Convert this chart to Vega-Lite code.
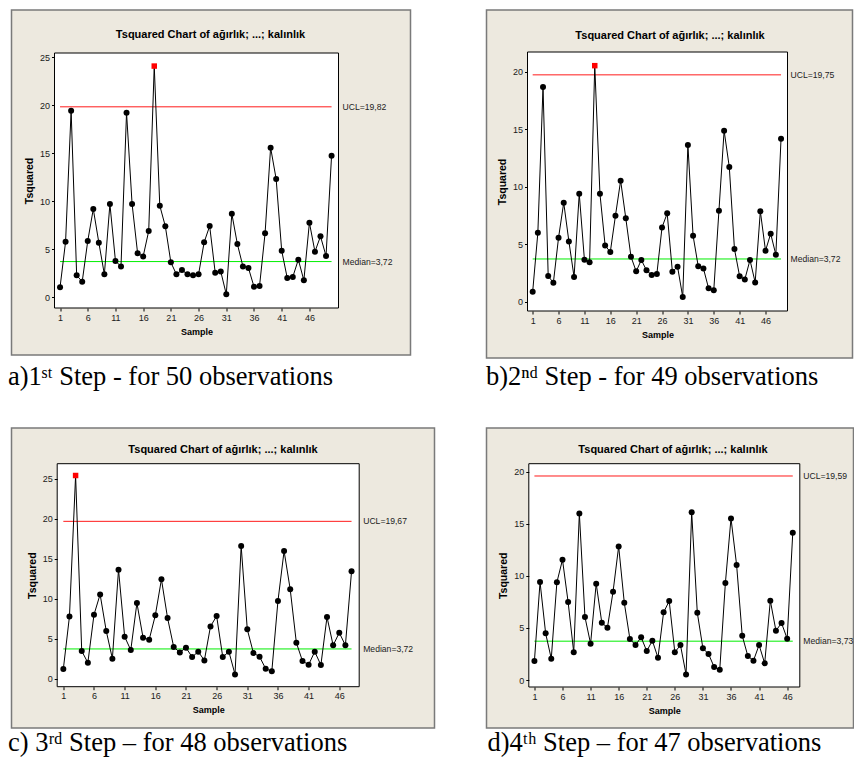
{
  "$schema": "https://vega.github.io/schema/vega-lite/v6.json",
  "background": "white",
  "padding": {"left": 6.5, "top": 9, "right": 0, "bottom": 0},
  "columns": 2,
  "spacing": {"row": 70, "column": 52},
  "bounds": "flush",
  "align": "all",
  "datasets": {
    "a": [
      {"sample":1,"t2":1.04},{"sample":2,"t2":5.79},{"sample":3,"t2":19.42},{"sample":4,"t2":2.29},{"sample":5,"t2":1.63},
      {"sample":6,"t2":5.86},{"sample":7,"t2":9.19},{"sample":8,"t2":5.69},{"sample":9,"t2":2.39},{"sample":10,"t2":9.71},
      {"sample":11,"t2":3.78},{"sample":12,"t2":3.22},{"sample":13,"t2":19.21},{"sample":14,"t2":9.71},{"sample":15,"t2":4.58},
      {"sample":16,"t2":4.26},{"sample":17,"t2":6.9},{"sample":18,"t2":24.06},{"sample":19,"t2":9.54},{"sample":20,"t2":7.39},
      {"sample":21,"t2":3.64},{"sample":22,"t2":2.39},{"sample":23,"t2":2.84},{"sample":24,"t2":2.39},{"sample":25,"t2":2.29},
      {"sample":26,"t2":2.39},{"sample":27,"t2":5.72},{"sample":28,"t2":7.42},{"sample":29,"t2":2.57},{"sample":30,"t2":2.7},
      {"sample":31,"t2":0.31},{"sample":32,"t2":8.7},{"sample":33,"t2":5.55},{"sample":34,"t2":3.22},{"sample":35,"t2":3.05},
      {"sample":36,"t2":1.11},{"sample":37,"t2":1.18},{"sample":38,"t2":6.66},{"sample":39,"t2":15.57},{"sample":40,"t2":12.31},
      {"sample":41,"t2":4.85},{"sample":42,"t2":2.01},{"sample":43,"t2":2.12},{"sample":44,"t2":3.92},{"sample":45,"t2":1.77},
      {"sample":46,"t2":7.77},{"sample":47,"t2":4.75},{"sample":48,"t2":6.35},{"sample":49,"t2":4.3},{"sample":50,"t2":14.74}
    ],
    "b": [
      {"sample":1,"t2":0.87},{"sample":2,"t2":6.0},{"sample":3,"t2":18.7},{"sample":4,"t2":2.23},{"sample":5,"t2":1.65},
      {"sample":6,"t2":5.57},{"sample":7,"t2":8.62},{"sample":8,"t2":5.25},{"sample":9,"t2":2.15},{"sample":10,"t2":9.4},
      {"sample":11,"t2":3.66},{"sample":12,"t2":3.43},{"sample":13,"t2":20.55},{"sample":14,"t2":9.4},{"sample":15,"t2":4.9},
      {"sample":16,"t2":4.32},{"sample":17,"t2":7.49},{"sample":18,"t2":10.54},{"sample":19,"t2":7.26},{"sample":20,"t2":3.92},
      {"sample":21,"t2":2.64},{"sample":22,"t2":3.63},{"sample":23,"t2":2.73},{"sample":24,"t2":2.32},{"sample":25,"t2":2.41},
      {"sample":26,"t2":6.47},{"sample":27,"t2":7.69},{"sample":28,"t2":2.61},{"sample":29,"t2":3.05},{"sample":30,"t2":0.41},
      {"sample":31,"t2":13.64},{"sample":32,"t2":5.75},{"sample":33,"t2":3.08},{"sample":34,"t2":2.9},{"sample":35,"t2":1.16},
      {"sample":36,"t2":0.99},{"sample":37,"t2":7.92},{"sample":38,"t2":14.89},{"sample":39,"t2":11.73},{"sample":40,"t2":4.59},
      {"sample":41,"t2":2.21},{"sample":42,"t2":1.94},{"sample":43,"t2":3.63},{"sample":44,"t2":1.68},{"sample":45,"t2":7.87},
      {"sample":46,"t2":4.44},{"sample":47,"t2":5.92},{"sample":48,"t2":4.09},{"sample":49,"t2":14.19}
    ],
    "c": [
      {"sample":1,"t2":1.21},{"sample":2,"t2":7.79},{"sample":3,"t2":25.4},{"sample":4,"t2":3.46},{"sample":5,"t2":2.0},
      {"sample":6,"t2":8.0},{"sample":7,"t2":10.54},{"sample":8,"t2":5.96},{"sample":9,"t2":2.5},{"sample":10,"t2":13.63},
      {"sample":11,"t2":5.25},{"sample":12,"t2":3.58},{"sample":13,"t2":9.46},{"sample":14,"t2":5.13},{"sample":15,"t2":4.88},
      {"sample":16,"t2":7.92},{"sample":17,"t2":12.42},{"sample":18,"t2":7.58},{"sample":19,"t2":3.96},{"sample":20,"t2":3.29},
      {"sample":21,"t2":3.88},{"sample":22,"t2":2.71},{"sample":23,"t2":3.38},{"sample":24,"t2":2.29},{"sample":25,"t2":6.54},
      {"sample":26,"t2":7.83},{"sample":27,"t2":2.71},{"sample":28,"t2":3.38},{"sample":29,"t2":0.54},{"sample":30,"t2":16.58},
      {"sample":31,"t2":6.17},{"sample":32,"t2":3.21},{"sample":33,"t2":2.75},{"sample":34,"t2":1.25},{"sample":35,"t2":0.92},
      {"sample":36,"t2":9.71},{"sample":37,"t2":15.96},{"sample":38,"t2":11.17},{"sample":39,"t2":4.5},{"sample":40,"t2":2.21},
      {"sample":41,"t2":1.75},{"sample":42,"t2":3.38},{"sample":43,"t2":1.71},{"sample":44,"t2":7.71},{"sample":45,"t2":4.17},
      {"sample":46,"t2":5.75},{"sample":47,"t2":4.17},{"sample":48,"t2":13.42}
    ],
    "d": [
      {"sample":1,"t2":1.82},{"sample":2,"t2":9.41},{"sample":3,"t2":4.48},{"sample":4,"t2":2.05},{"sample":5,"t2":9.38},
      {"sample":6,"t2":11.55},{"sample":7,"t2":7.49},{"sample":8,"t2":2.66},{"sample":9,"t2":16.0},{"sample":10,"t2":6.05},
      {"sample":11,"t2":3.49},{"sample":12,"t2":9.25},{"sample":13,"t2":5.5},{"sample":14,"t2":5.02},{"sample":15,"t2":8.48},
      {"sample":16,"t2":12.83},{"sample":17,"t2":7.42},{"sample":18,"t2":3.94},{"sample":19,"t2":3.36},{"sample":20,"t2":4.1},
      {"sample":21,"t2":2.78},{"sample":22,"t2":3.78},{"sample":23,"t2":2.14},{"sample":24,"t2":6.5},{"sample":25,"t2":7.58},
      {"sample":26,"t2":2.66},{"sample":27,"t2":3.36},{"sample":28,"t2":0.54},{"sample":29,"t2":16.1},{"sample":30,"t2":6.46},
      {"sample":31,"t2":3.04},{"sample":32,"t2":2.5},{"sample":33,"t2":1.25},{"sample":34,"t2":0.99},{"sample":35,"t2":9.31},
      {"sample":36,"t2":15.52},{"sample":37,"t2":11.04},{"sample":38,"t2":4.26},{"sample":39,"t2":2.3},{"sample":40,"t2":1.86},
      {"sample":41,"t2":3.36},{"sample":42,"t2":1.6},{"sample":43,"t2":7.62},{"sample":44,"t2":4.74},{"sample":45,"t2":5.47},
      {"sample":46,"t2":3.97},{"sample":47,"t2":14.14}
    ],
    "la": [{"kind":"UCL","value":19.82,"label":"UCL=19,82","from":1,"to":50},{"kind":"Median","value":3.72,"label":"Median=3,72","from":1,"to":50}],
    "lb": [{"kind":"UCL","value":19.75,"label":"UCL=19,75","from":1,"to":49},{"kind":"Median","value":3.72,"label":"Median=3,72","from":1,"to":49}],
    "lc": [{"kind":"UCL","value":19.67,"label":"UCL=19,67","from":1,"to":48},{"kind":"Median","value":3.72,"label":"Median=3,72","from":1,"to":48}],
    "ld": [{"kind":"UCL","value":19.59,"label":"UCL=19,59","from":1,"to":47},{"kind":"Median","value":3.73,"label":"Median=3,73","from":1,"to":47}]
  },
  "concat": [
    {
      "width": 399, "height": 345,
      "title": {"text": "a)1ˢᵗ Step - for 50 observations", "orient": "bottom", "anchor": "start", "frame": "group", "offset": 9, "dx": -3.5},
      "layer": [
        {"data": {"values": [{}]}, "mark": {"type": "rect", "fill": "#ffffff", "stroke": "#000000", "strokeWidth": 1},
          "encoding": {
            "x": {"datum": 0, "type": "quantitative", "scale": {"domain": [0, 51.25], "range": [43, 327], "nice": false, "zero": false},
              "axis": {"orient": "bottom", "values": [1,6,11,16,21,26,31,36,41,46], "title": "Sample", "offset": -47, "zindex": 1}},
            "x2": {"datum": 51.25},
            "y": {"datum": -1.11, "type": "quantitative", "scale": {"domain": [-1.11, 25.42], "range": [298, 43], "nice": false, "zero": false},
              "axis": {"orient": "left", "values": [0,5,10,15,20,25], "title": "Tsquared", "offset": -43, "titleFontSize": 10.5, "zindex": 1}},
            "y2": {"datum": 25.42}}},
        {"data": {"name": "la"}, "mark": {"type": "rule", "strokeWidth": 1},
          "encoding": {"x": {"field": "from", "type": "quantitative", "axis": null}, "x2": {"field": "to"}, "y": {"field": "value", "type": "quantitative"},
            "color": {"field": "kind", "type": "nominal", "scale": {"domain": ["UCL", "Median"], "range": ["#ff1a1a", "#00ee00"]}, "legend": null}}},
        {"data": {"name": "a"}, "mark": {"type": "line", "color": "#000000", "strokeWidth": 1},
          "encoding": {"x": {"field": "sample", "type": "quantitative", "axis": null}, "y": {"field": "t2", "type": "quantitative"}}},
        {"data": {"name": "a"}, "transform": [{"filter": "datum.t2 <= 19.82"}], "mark": {"type": "circle", "color": "#000000", "opacity": 1, "size": 36},
          "encoding": {"x": {"field": "sample", "type": "quantitative", "axis": null}, "y": {"field": "t2", "type": "quantitative"}}},
        {"data": {"name": "a"}, "transform": [{"filter": "datum.t2 > 19.82"}], "mark": {"type": "square", "color": "#ff0000", "opacity": 1, "size": 30},
          "encoding": {"x": {"field": "sample", "type": "quantitative", "axis": null}, "y": {"field": "t2", "type": "quantitative"}}},
        {"data": {"name": "la"}, "mark": {"type": "text", "align": "left", "baseline": "middle", "dx": 4, "font": "Liberation Sans", "fontSize": 8.6, "color": "#222222"},
          "encoding": {"x": {"datum": 51.25, "type": "quantitative",
              "axis": {"orient": "top", "title": "Tsquared Chart of ağırlık; ...; kalınlık", "labels": false, "ticks": false, "domain": false, "offset": -24.3, "titlePadding": 0, "titleBaseline": "middle", "titleX": 198.5, "titleAlign": "center", "titleFontSize": 11}},
            "y": {"field": "value", "type": "quantitative"}, "text": {"field": "label"}}}
      ]
    },
    {
      "width": 366, "height": 348,
      "title": {"text": "b)2ⁿᵈ Step - for 49 observations", "orient": "bottom", "anchor": "start", "frame": "group", "offset": 6, "dx": -0.5},
      "layer": [
        {"data": {"values": [{}]}, "mark": {"type": "rect", "fill": "#ffffff", "stroke": "#000000", "strokeWidth": 1},
          "encoding": {
            "x": {"datum": 0, "type": "quantitative", "scale": {"domain": [0, 50.25], "range": [41, 301], "nice": false, "zero": false},
              "axis": {"orient": "bottom", "values": [1,6,11,16,21,26,31,36,41,46], "title": "Sample", "offset": -47, "zindex": 1}},
            "x2": {"datum": 50.25},
            "y": {"datum": -0.81, "type": "quantitative", "scale": {"domain": [-0.81, 21.74], "range": [301, 42], "nice": false, "zero": false},
              "axis": {"orient": "left", "values": [0,5,10,15,20], "title": "Tsquared", "offset": -41, "titleFontSize": 10.5, "zindex": 1}},
            "y2": {"datum": 21.74}}},
        {"data": {"name": "lb"}, "mark": {"type": "rule", "strokeWidth": 1},
          "encoding": {"x": {"field": "from", "type": "quantitative", "axis": null}, "x2": {"field": "to"}, "y": {"field": "value", "type": "quantitative"},
            "color": {"field": "kind", "type": "nominal", "scale": {"domain": ["UCL", "Median"], "range": ["#ff1a1a", "#00ee00"]}, "legend": null}}},
        {"data": {"name": "b"}, "mark": {"type": "line", "color": "#000000", "strokeWidth": 1},
          "encoding": {"x": {"field": "sample", "type": "quantitative", "axis": null}, "y": {"field": "t2", "type": "quantitative"}}},
        {"data": {"name": "b"}, "transform": [{"filter": "datum.t2 <= 19.75"}], "mark": {"type": "circle", "color": "#000000", "opacity": 1, "size": 36},
          "encoding": {"x": {"field": "sample", "type": "quantitative", "axis": null}, "y": {"field": "t2", "type": "quantitative"}}},
        {"data": {"name": "b"}, "transform": [{"filter": "datum.t2 > 19.75"}], "mark": {"type": "square", "color": "#ff0000", "opacity": 1, "size": 30},
          "encoding": {"x": {"field": "sample", "type": "quantitative", "axis": null}, "y": {"field": "t2", "type": "quantitative"}}},
        {"data": {"name": "lb"}, "mark": {"type": "text", "align": "left", "baseline": "middle", "dx": 3, "font": "Liberation Sans", "fontSize": 8.6, "color": "#222222"},
          "encoding": {"x": {"datum": 50.25, "type": "quantitative",
              "axis": {"orient": "top", "title": "Tsquared Chart of ağırlık; ...; kalınlık", "labels": false, "ticks": false, "domain": false, "offset": -25.3, "titlePadding": 0, "titleBaseline": "middle", "titleX": 183, "titleAlign": "center", "titleFontSize": 11}},
            "y": {"field": "value", "type": "quantitative"}, "text": {"field": "label"}}}
      ]
    },
    {
      "width": 423, "height": 300,
      "title": {"text": "c) 3ʳᵈ Step – for 48 observations", "orient": "bottom", "anchor": "start", "frame": "group", "offset": 2, "dx": -3.5},
      "layer": [
        {"data": {"values": [{}]}, "mark": {"type": "rect", "fill": "#ffffff", "stroke": "#000000", "strokeWidth": 1},
          "encoding": {
            "x": {"datum": 0, "type": "quantitative", "scale": {"domain": [0, 49.25], "range": [45.7, 347.7], "nice": false, "zero": false},
              "axis": {"orient": "bottom", "values": [1,6,11,16,21,26,31,36,41,46], "title": "Sample", "offset": -41.3, "zindex": 1}},
            "x2": {"datum": 49.25},
            "y": {"datum": -1.0, "type": "quantitative", "scale": {"domain": [-1.0, 26.875], "range": [258.7, 35.7], "nice": false, "zero": false},
              "axis": {"orient": "left", "values": [0,5,10,15,20,25], "title": "Tsquared", "offset": -45.7, "titleFontSize": 10.5, "zindex": 1}},
            "y2": {"datum": 26.875}}},
        {"data": {"name": "lc"}, "mark": {"type": "rule", "strokeWidth": 1},
          "encoding": {"x": {"field": "from", "type": "quantitative", "axis": null}, "x2": {"field": "to"}, "y": {"field": "value", "type": "quantitative"},
            "color": {"field": "kind", "type": "nominal", "scale": {"domain": ["UCL", "Median"], "range": ["#ff1a1a", "#00ee00"]}, "legend": null}}},
        {"data": {"name": "c"}, "mark": {"type": "line", "color": "#000000", "strokeWidth": 1},
          "encoding": {"x": {"field": "sample", "type": "quantitative", "axis": null}, "y": {"field": "t2", "type": "quantitative"}}},
        {"data": {"name": "c"}, "transform": [{"filter": "datum.t2 <= 19.67"}], "mark": {"type": "circle", "color": "#000000", "opacity": 1, "size": 36},
          "encoding": {"x": {"field": "sample", "type": "quantitative", "axis": null}, "y": {"field": "t2", "type": "quantitative"}}},
        {"data": {"name": "c"}, "transform": [{"filter": "datum.t2 > 19.67"}], "mark": {"type": "square", "color": "#ff0000", "opacity": 1, "size": 30},
          "encoding": {"x": {"field": "sample", "type": "quantitative", "axis": null}, "y": {"field": "t2", "type": "quantitative"}}},
        {"data": {"name": "lc"}, "mark": {"type": "text", "align": "left", "baseline": "middle", "dx": 4, "font": "Liberation Sans", "fontSize": 8.6, "color": "#222222"},
          "encoding": {"x": {"datum": 49.25, "type": "quantitative",
              "axis": {"orient": "top", "title": "Tsquared Chart of ağırlık; ...; kalınlık", "labels": false, "ticks": false, "domain": false, "offset": -21.3, "titlePadding": 0, "titleBaseline": "middle", "titleX": 211, "titleAlign": "center", "titleFontSize": 11}},
            "y": {"field": "value", "type": "quantitative"}, "text": {"field": "label"}}}
      ]
    },
    {
      "width": 367, "height": 300,
      "title": {"text": "d)4ᵗʰ Step – for 47 observations", "orient": "bottom", "anchor": "start", "frame": "group", "offset": 2, "dx": 1},
      "layer": [
        {"data": {"values": [{}]}, "mark": {"type": "rect", "fill": "#ffffff", "stroke": "#000000", "strokeWidth": 1},
          "encoding": {
            "x": {"datum": 0, "type": "quantitative", "scale": {"domain": [0, 48.25], "range": [42.3, 313.3], "nice": false, "zero": false},
              "axis": {"orient": "bottom", "values": [1,6,11,16,21,26,31,36,41,46], "title": "Sample", "offset": -41, "zindex": 1}},
            "x2": {"datum": 48.25},
            "y": {"datum": -0.67, "type": "quantitative", "scale": {"domain": [-0.67, 20.77], "range": [259, 35.7], "nice": false, "zero": false},
              "axis": {"orient": "left", "values": [0,5,10,15,20], "title": "Tsquared", "offset": -42.3, "titleFontSize": 10.5, "zindex": 1}},
            "y2": {"datum": 20.77}}},
        {"data": {"name": "ld"}, "mark": {"type": "rule", "strokeWidth": 1},
          "encoding": {"x": {"field": "from", "type": "quantitative", "axis": null}, "x2": {"field": "to"}, "y": {"field": "value", "type": "quantitative"},
            "color": {"field": "kind", "type": "nominal", "scale": {"domain": ["UCL", "Median"], "range": ["#ff1a1a", "#00ee00"]}, "legend": null}}},
        {"data": {"name": "d"}, "mark": {"type": "line", "color": "#000000", "strokeWidth": 1},
          "encoding": {"x": {"field": "sample", "type": "quantitative", "axis": null}, "y": {"field": "t2", "type": "quantitative"}}},
        {"data": {"name": "d"}, "transform": [{"filter": "datum.t2 <= 19.59"}], "mark": {"type": "circle", "color": "#000000", "opacity": 1, "size": 36},
          "encoding": {"x": {"field": "sample", "type": "quantitative", "axis": null}, "y": {"field": "t2", "type": "quantitative"}}},
        {"data": {"name": "d"}, "transform": [{"filter": "datum.t2 > 19.59"}], "mark": {"type": "square", "color": "#ff0000", "opacity": 1, "size": 30},
          "encoding": {"x": {"field": "sample", "type": "quantitative", "axis": null}, "y": {"field": "t2", "type": "quantitative"}}},
        {"data": {"name": "ld"}, "mark": {"type": "text", "align": "left", "baseline": "middle", "dx": 3.5, "font": "Liberation Sans", "fontSize": 8.6, "color": "#222222"},
          "encoding": {"x": {"datum": 48.25, "type": "quantitative",
              "axis": {"orient": "top", "title": "Tsquared Chart of ağırlık; ...; kalınlık", "labels": false, "ticks": false, "domain": false, "offset": -21, "titlePadding": 0, "titleBaseline": "middle", "titleX": 186, "titleAlign": "center", "titleFontSize": 11}},
            "y": {"field": "value", "type": "quantitative"}, "text": {"field": "label"}}}
      ]
    }
  ],
  "config": {
    "view": {"fill": "#EDE9DF", "stroke": "#7a7a7a", "strokeWidth": 1.5},
    "axis": {
      "grid": false, "domain": false, "ticks": true, "tickSize": 3, "tickColor": "#000000", "tickWidth": 1,
      "labelFont": "Liberation Sans", "labelFontSize": 9, "labelColor": "#1a1a1a", "labelPadding": 2,
      "titleFont": "Liberation Sans", "titleFontWeight": "bold", "titleFontSize": 9, "titleColor": "#000000", "titlePadding": 5
    },
    "title": {"font": "Liberation Serif", "fontSize": 26.5, "fontWeight": "normal", "color": "#000000", "baseline": "top"}
  }
}
